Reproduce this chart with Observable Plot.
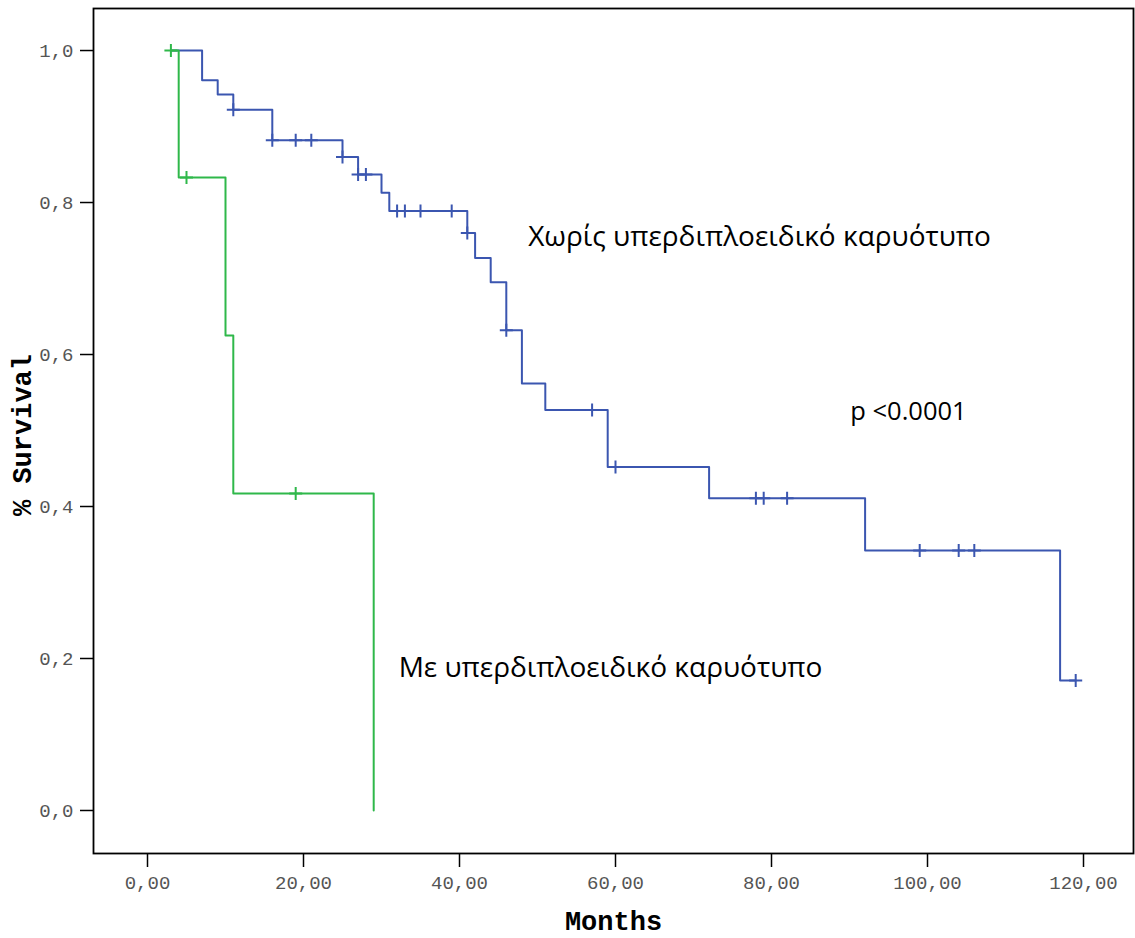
<!DOCTYPE html>
<html>
<head>
<meta charset="utf-8">
<script src="https://cdn.jsdelivr.net/npm/d3@7"></script>
<script src="https://cdn.jsdelivr.net/npm/@observablehq/plot@0.6"></script>
<style>
  html, body { margin: 0; padding: 0; background: #fff; }
  #chart svg { display: block; }
</style>
</head>
<body>
<div id="chart"></div>
<script>
// Kaplan–Meier step data (months, survival)
const blueTimes = [3, 7, 9, 11, 16, 25, 27, 30, 31, 41, 42, 44, 46, 48, 51, 59, 72, 92, 117, 119];
const blueSurv  = [1.0, 0.961, 0.942, 0.922, 0.882, 0.860, 0.837, 0.813, 0.789, 0.760, 0.727, 0.695, 0.632, 0.562, 0.527, 0.452, 0.411, 0.342, 0.171, 0.171];
const greenTimes = [3, 4, 10, 11, 29];
const greenSurv  = [1.0, 0.833, 0.625, 0.417, 0.0];

// Censored observations
const blueCensorTimes = [11, 16, 19, 21, 25, 27, 28, 32, 33, 35, 39, 41, 46, 57, 60, 78, 79, 82, 99, 104, 106, 119];
const blueCensorSurv  = [0.922, 0.882, 0.882, 0.882, 0.860, 0.837, 0.837, 0.789, 0.789, 0.789, 0.789, 0.760, 0.632, 0.527, 0.452, 0.411, 0.411, 0.411, 0.342, 0.342, 0.342, 0.171];
const greenCensorTimes = [3, 5, 19];
const greenCensorSurv  = [1.0, 0.833, 0.417];

const xTicks = [0, 20, 40, 60, 80, 100, 120];
const yTicks = [0, 0.2, 0.4, 0.6, 0.8, 1.0];

const labelBlue = "Χωρίς υπερδιπλοειδικό καρυότυπο";
const labelGreen = "Με υπερδιπλοειδικό καρυότυπο";
const labelP = "p <0.0001";

const blue = "#3b56b0";
const green = "#2fb84a";

const blueData = blueTimes.map((t, i) => ({t, s: blueSurv[i]}));
const greenData = greenTimes.map((t, i) => ({t, s: greenSurv[i]}));
const blueCens = blueCensorTimes.map((t, i) => ({t, s: blueCensorSurv[i]}));
const greenCens = greenCensorTimes.map((t, i) => ({t, s: greenCensorSurv[i]}));

const plusSymbol = {
  draw(context, size) {
    const a = 6.5;
    context.moveTo(-a, 0); context.lineTo(a, 0);
    context.moveTo(0, -a); context.lineTo(0, a);
  }
};

const comma = (d, n) => d.toFixed(n).replace(".", ",");

const chart = Plot.plot({
  width: 1135,
  height: 938,
  marginLeft: 93,
  marginRight: 2,
  marginTop: 8,
  marginBottom: 85,
  style: {background: "#fff"},
  x: {domain: [-6.923, 126.41], ticks: xTicks},
  y: {domain: [-0.0566, 1.0553], ticks: yTicks},
  marks: [
    Plot.axisX(xTicks, {
      tickSize: 14, tickPadding: 8, tickFormat: d => comma(d, 2),
      fontFamily: "Liberation Mono, monospace", fontSize: 19, fill: "#555",
      stroke: "#000", strokeWidth: 1.5, label: null
    }),
    Plot.axisY(yTicks, {
      tickSize: 13, tickPadding: 7, tickFormat: d => comma(d, 1),
      fontFamily: "Liberation Mono, monospace", fontSize: 19, fill: "#555",
      stroke: "#000", strokeWidth: 1.5, label: null
    }),
    Plot.frame({stroke: "#000", strokeWidth: 1.8}),
    Plot.line(blueData, {x: "t", y: "s", curve: "step-after", stroke: blue, strokeWidth: 2}),
    Plot.dot(blueCens, {x: "t", y: "s", symbol: plusSymbol, stroke: blue, fill: "none", strokeWidth: 2}),
    Plot.line(greenData, {x: "t", y: "s", curve: "step-after", stroke: green, strokeWidth: 2}),
    Plot.dot(greenCens, {x: "t", y: "s", symbol: plusSymbol, stroke: green, fill: "none", strokeWidth: 2}),
    Plot.text([labelBlue], {x: 48.8, y: 0.754, text: d => d, textAnchor: "start", fontFamily: "Open Sans, Noto Sans, sans-serif", fontSize: 28, fill: "#000"}),
    Plot.text([labelP], {x: 90.1, y: 0.524, text: d => d, textAnchor: "start", fontFamily: "Open Sans, Noto Sans, sans-serif", fontSize: 25.5, fill: "#000"}),
    Plot.text([labelGreen], {x: 32.2, y: 0.187, text: d => d, textAnchor: "start", fontFamily: "Open Sans, Noto Sans, sans-serif", fontSize: 28, fill: "#000"}),
    Plot.text(["Months"], {frameAnchor: "bottom", dy: 76, text: d => d, fontFamily: "Liberation Mono, monospace", fontWeight: "bold", fontSize: 27, fill: "#000"}),
    Plot.text(["% Survival"], {frameAnchor: "left", textAnchor: "middle", dx: -71, dy: 4, rotate: -90, text: d => d, fontFamily: "Liberation Mono, monospace", fontWeight: "bold", fontSize: 27, fill: "#000"})
  ]
});
document.getElementById("chart").appendChild(chart);
</script>
</body>
</html>
